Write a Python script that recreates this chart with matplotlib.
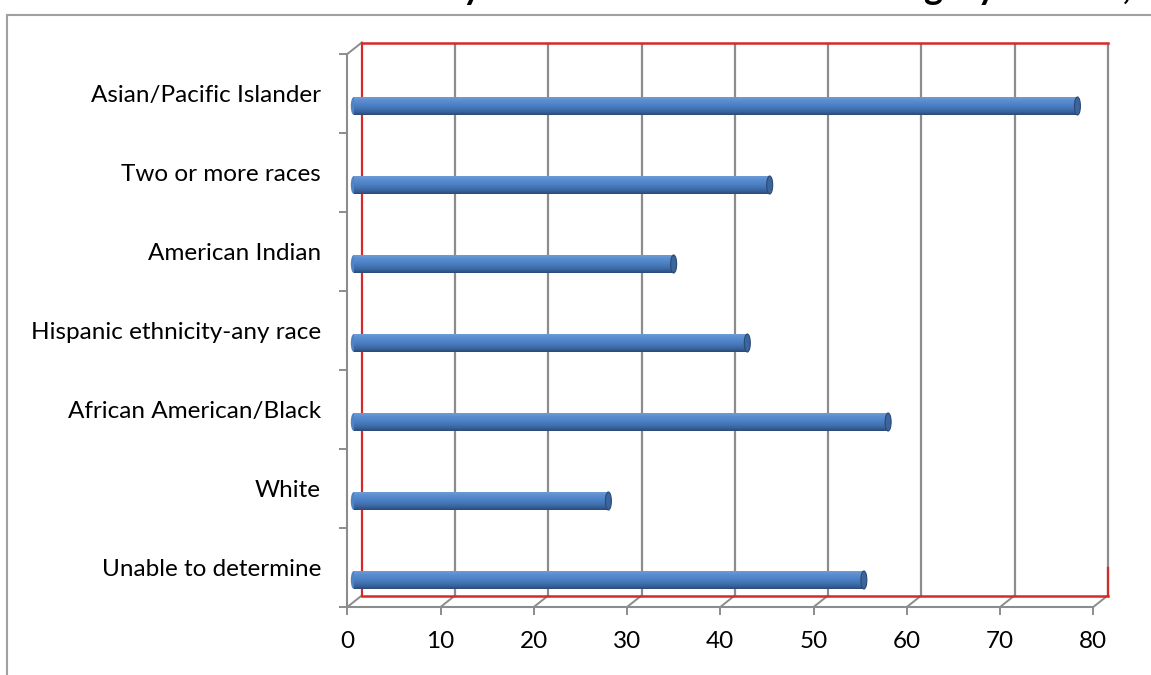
import matplotlib
matplotlib.use("Agg")
import matplotlib.pyplot as plt
import numpy as np
from matplotlib.patches import Ellipse
from matplotlib.colors import LinearSegmentedColormap
from matplotlib.lines import Line2D

# ---------------- data ----------------
categories = ["Unable to determine", "White", "African American/Black",
              "Hispanic ethnicity-any race", "American Indian",
              "Two or more races", "Asian/Pacific Islander"]
values = [54.7, 27.3, 57.3, 42.2, 34.3, 44.6, 77.6]
x_ticks = [0, 10, 20, 30, 40, 50, 60, 70, 80]
title = "Mean Scale Score by Race and Ethnic Code Category Overall, 2011"

# ---------------- layout ----------------
W, H = 1151, 675
fig = plt.figure(figsize=(W / 100, H / 100), dpi=100)
ax_l, ax_r = 347.3, 1093.3
ax_b, ax_t = H - 607, H - 54
ax = fig.add_axes([ax_l / W, ax_b / H, (ax_r - ax_l) / W, (ax_t - ax_b) / H])
ax.set_facecolor("none")
xmax = x_ticks[-1]
ncat = len(categories)
px_x = (ax_r - ax_l) / xmax
px_y = (ax_t - ax_b) / ncat
ddx = 14.5 / px_x      # depth offset of back wall (data units)
ddy = 11.5 / px_y

GRID = "#8c8c8c"
RED = "#d42a2a"
FONT = "Lato"

# back wall gridlines
for xt in x_ticks[1:]:
    ax.plot([xt + ddx, xt + ddx], [ddy, ncat + ddy], color=GRID, lw=1.6,
            clip_on=False, zorder=1, solid_capstyle="butt")
# floor diagonals
for xt in x_ticks:
    ax.plot([xt, xt + ddx], [0, ddy], color=GRID, lw=1.4, clip_on=False, zorder=1)
# left wall top diagonal
ax.plot([0, ddx], [ncat, ncat + ddy], color=GRID, lw=1.4, clip_on=False, zorder=1)
# red wall edges
ax.plot([ddx, xmax + ddx], [ncat + ddy, ncat + ddy], color=RED, lw=1.8, clip_on=False, zorder=1.5)
ax.plot([ddx, xmax + ddx], [ddy, ddy], color=RED, lw=1.8, clip_on=False, zorder=1.5)
ax.plot([ddx, ddx], [ddy, ncat + ddy], color=RED, lw=1.6, clip_on=False, zorder=1.5)
ax.plot([xmax + ddx, xmax + ddx], [ddy, 0.35 + ddy], color=RED, lw=1.6, clip_on=False, zorder=1.6)

# ---------------- bars (cylinders) ----------------
cyl = LinearSegmentedColormap.from_list(
    "cyl", ["#6e9bd6", "#5a8dd0", "#4f84c8", "#4577b8", "#3a659e", "#2a4a76"])
bar_dx = 6.5 / px_x
bar_dy = -12.5 / px_y
bar_h = 18 / px_y
cap_w = 6 / px_x
ys = [i + 0.5 + bar_dy for i in range(ncat)]
bars = ax.barh(ys, values, left=bar_dx, height=bar_h, color="#4a7ebf",
               zorder=3, clip_on=False)
grad = np.linspace(0, 1, 256).reshape(-1, 1)
for patch, v, y in zip(bars.patches, values, ys):
    im = ax.imshow(grad, cmap=cyl, aspect="auto", origin="upper",
                   extent=[bar_dx, bar_dx + v, y - bar_h / 2, y + bar_h / 2],
                   zorder=3.2, clip_on=True)
    im.set_clip_path(patch)
    ax.add_patch(Ellipse((bar_dx, y), cap_w, bar_h, facecolor="#4f83c5",
                         edgecolor="none", zorder=2.9, clip_on=False))
    ax.add_patch(Ellipse((bar_dx + v, y), cap_w, bar_h, facecolor="#3c659c",
                         edgecolor="#2b4a75", lw=0.8, zorder=4, clip_on=False))

ax.set_xlim(0, xmax)
ax.set_ylim(0, ncat)

# ---------------- axes ----------------
for s in ["top", "right"]:
    ax.spines[s].set_visible(False)
for s in ["left", "bottom"]:
    ax.spines[s].set_color(GRID)
    ax.spines[s].set_linewidth(1.5)
    ax.spines[s].set_zorder(5)

ax.set_xticks(x_ticks)
ax.set_xticklabels([str(t) for t in x_ticks], fontsize=17.5, fontfamily=FONT)
ax.tick_params(axis="x", length=6, width=1.4, color=GRID, pad=11, labelcolor="black")

ax.set_yticks([i + 0.5 for i in range(ncat)])
ax.set_yticklabels(categories, fontsize=17.5, fontfamily=FONT)
ax.tick_params(axis="y", which="major", length=0, pad=19, labelcolor="black")
ax.set_yticks(range(ncat + 1), minor=True)
ax.tick_params(axis="y", which="minor", length=6, width=1.4, color=GRID)

# ---------------- chart-area border ----------------
bx, by = 7 / W, 1 - 15 / H
fig.add_artist(Line2D([bx, bx], [0, by], transform=fig.transFigure, color="#a0a0a0", lw=1.5))
fig.add_artist(Line2D([bx, 1], [by, by], transform=fig.transFigure, color="#a0a0a0", lw=1.5))

# ---------------- title (cropped off the top, only descenders show) ----------------
tprops = dict(fontsize=26, fontweight="bold", fontfamily=FONT)
renderer = fig.canvas.get_renderer()
probe = fig.text(0, 0, "Mean Scale Score b", **tprops)
w_pre = probe.get_window_extent(renderer).width
probe.remove()
probe = fig.text(0, 0, "y", **tprops)
w_y = probe.get_window_extent(renderer).width
probe.remove()
x0 = 472 - w_pre - w_y / 2
fig.text(x0 / W, 1 + 1 / H, title, ha="left", va="baseline", **tprops)

fig.savefig("out.png", dpi=100)
